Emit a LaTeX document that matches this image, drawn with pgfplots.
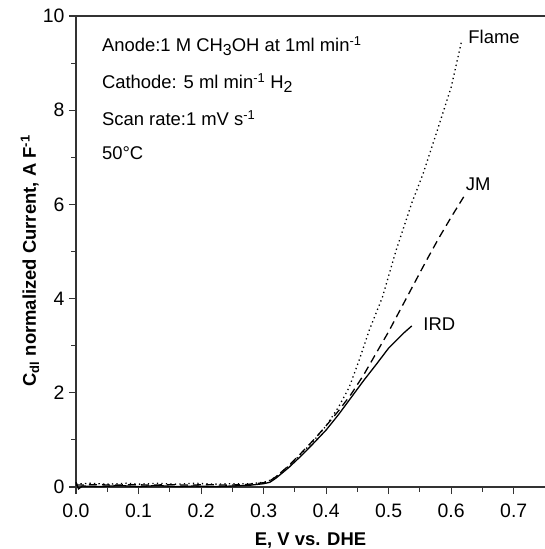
\documentclass[border=0pt]{standalone}
\usepackage{fontspec}
\setmainfont{Liberation Sans}
\usepackage{pgfplots}
\pgfplotsset{compat=1.18}
\begin{document}
\begin{tikzpicture}
\begin{axis}[
  scale only axis, width=469bp, height=471bp,
  xmin=0, xmax=0.75, ymin=0, ymax=10,
  axis x line*=bottom, axis y line*=left,
  axis line style={line width=1.1bp, black!80},
  xtick={0,0.1,0.2,0.3,0.4,0.5,0.6,0.7}, minor x tick num=1,
  ytick={0,2,4,6,8,10}, minor y tick num=1,
  tick align=outside, major tick length=7bp, minor tick length=4.5bp,
  tick style={line width=1.1bp, black!80},
  /pgf/number format/assume math mode=true,
  tick label style={font=\fontsize{19.5}{20}\selectfont},
  xticklabel style={/pgf/number format/fixed, /pgf/number format/fixed zerofill, /pgf/number format/precision=1, yshift=-6bp},
  yticklabel style={xshift=-1bp},
  xlabel={\bfseries E, V vs. DHE},
  ylabel={\bfseries C\textsubscript{dl} normalized Current, A F\textsuperscript{-1}},
  label style={font=\fontsize{18.5}{19}\selectfont},
  xlabel style={at={(axis description cs:0.5,0)}, anchor=center, yshift=-54bp},
  ylabel style={at={(axis description cs:0,0.48)}, anchor=center, yshift=46bp},
  clip=false,
]
% Flame (dotted)
\addplot[black, line width=1.3bp, dash pattern=on 1.3bp off 3.2bp] coordinates {
(0.000,0.06) (0.02,0.08) (0.05,0.06) (0.08,0.08) (0.10,0.06) (0.13,0.08) (0.16,0.06) (0.19,0.08) (0.22,0.06) (0.25,0.07) (0.28,0.07)
(0.30,0.10) (0.31,0.14) (0.32,0.22) (0.34,0.44) (0.36,0.70) (0.38,0.98) (0.40,1.30) (0.42,1.70)
(0.437,2.12) (0.453,2.70) (0.469,3.33) (0.490,4.03) (0.512,5.03) (0.537,6.03) (0.555,6.65) (0.576,7.50) (0.600,8.49) (0.617,9.49)
};
% JM (dashed)
\addplot[black, line width=1.3bp, dash pattern=on 8bp off 5bp] coordinates {
(0.000,0.04) (0.03,0.05) (0.06,0.04) (0.09,0.05) (0.12,0.04) (0.15,0.05) (0.18,0.04) (0.21,0.05) (0.24,0.04) (0.27,0.05)
(0.30,0.09) (0.31,0.13) (0.32,0.22) (0.34,0.45) (0.36,0.72) (0.38,1.00) (0.40,1.30) (0.42,1.62)
(0.44,1.97) (0.46,2.38) (0.48,2.84) (0.50,3.30) (0.52,3.80) (0.54,4.30) (0.56,4.80) (0.58,5.28) (0.60,5.73) (0.62,6.16)
};
% IRD (solid)
\addplot[black, line width=1.3bp] coordinates {
(0.000,0.10) (0.004,-0.04) (0.01,0.02) (0.04,0.01) (0.07,0.03) (0.10,0.01) (0.13,0.03) (0.16,0.01) (0.19,0.02) (0.22,0.01) (0.25,0.02) (0.28,0.04)
(0.30,0.07) (0.31,0.10) (0.32,0.19) (0.34,0.41) (0.36,0.66) (0.38,0.93) (0.40,1.21) (0.42,1.54) (0.44,1.90) (0.46,2.26)
(0.48,2.60) (0.50,2.95) (0.515,3.15) (0.525,3.28) (0.537,3.42)
};
\node[anchor=west, font=\fontsize{18.5}{19}\selectfont] at (axis cs:0.036,9.36) {Anode:1 M CH\raisebox{-0.45ex}{\fontsize{16}{16}\selectfont 3}OH at 1ml min\textsuperscript{-1}};
\node[anchor=west, font=\fontsize{18.5}{19}\selectfont] at (axis cs:0.036,8.58) {Cathode: 5 ml min\textsuperscript{-1} H\raisebox{-0.45ex}{\fontsize{16}{16}\selectfont 2}};
\node[anchor=west, font=\fontsize{18.5}{19}\selectfont] at (axis cs:0.036,7.83) {Scan rate:1 mV s\textsuperscript{-1}};
\node[anchor=west, font=\fontsize{18.5}{19}\selectfont] at (axis cs:0.036,7.09) {50°C};
\node[anchor=west, font=\fontsize{18.5}{19}\selectfont] at (axis cs:0.622,9.55) {Flame};
\node[anchor=west, font=\fontsize{18.5}{19}\selectfont] at (axis cs:0.618,6.43) {JM};
\node[anchor=west, font=\fontsize{18.5}{19}\selectfont] at (axis cs:0.550,3.46) {IRD};
\end{axis}
\draw[line width=1.1bp, black!80] (current axis.north west) -- (current axis.north east);
\pgfresetboundingbox
\path ([shift={(-76bp,-62bp)}]current axis.south west) rectangle ([shift={(0bp,16bp)}]current axis.north east);
\end{tikzpicture}
\end{document}
